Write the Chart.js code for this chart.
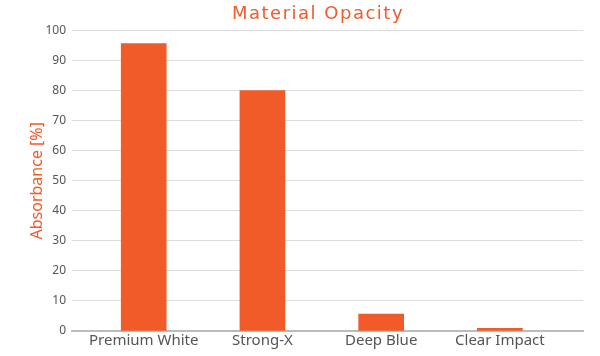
<!DOCTYPE html>
<html><head><meta charset="utf-8">
<script src="https://cdn.jsdelivr.net/npm/chart.js@4.4.0/dist/chart.umd.min.js"></script>
<style>html,body{margin:0;padding:0;background:#fff}canvas{display:block}</style>
</head><body>
<canvas id="c" width="600" height="356"></canvas>
<script>
const categories = ['Premium White', 'Strong-X', 'Deep Blue', 'Clear Impact'];
const absorbance = [95.7, 80, 5.6, 0.9];
const yTickValues = [0, 10, 20, 30, 40, 50, 60, 70, 80, 90, 100];
const chartTitle = 'Material Opacity';
const yAxisTitle = 'Absorbance [%]';

const ORANGE = '#F15A29';
const points = categories.map((c, i) => ({ x: i, y: absorbance[i] }));

const titleShift = {
  id: 'titleShift',
  afterLayout(chart) {
    const tb = chart.titleBlock;
    if (tb) { tb.left = 36; tb.right = 600; tb.width = tb.right - tb.left; }
    if (tb && !tb._patched) {
      const orig = tb.draw.bind(tb);
      tb.draw = function () {
        const ctx = chart.ctx; ctx.save();
        try { ctx.letterSpacing = '1.5px'; } catch (e) {}
        orig(); ctx.restore();
      };
      tb._patched = true;
    }
  }
};

new Chart(document.getElementById('c'), {
  type: 'bar',
  data: {
    datasets: [{
      data: points,
      backgroundColor: ORANGE,
      borderWidth: 0,
      barThickness: 45
    }]
  },
  options: {
    responsive: false,
    animation: false,
    devicePixelRatio: 1,
    layout: { padding: { left: 28, right: 17, top: 0, bottom: 0 } },
    plugins: {
      legend: { display: false },
      tooltip: { enabled: false },
      title: {
        display: true,
        text: chartTitle,
        color: ORANGE,
        font: { family: 'DejaVu Sans', size: 18, weight: 'normal' },
        padding: { top: 4, bottom: 5 }
      }
    },
    scales: {
      x: {
        type: 'linear',
        offset: false,
        min: -0.604,
        max: 3.70,
        afterBuildTicks: (s) => { s.ticks = categories.map((c, i) => ({ value: i })); },
        afterFit: (s) => { s.height = 25; },
        grid: { display: false, drawTicks: false, offset: false },
        border: { display: true, color: '#bbbbbb', width: 2 },
        ticks: {
          callback: (v) => categories[v],
          color: '#555555',
          padding: 1,
          maxRotation: 0,
          autoSkip: false,
          font: { family: 'Noto Sans', size: 15 }
        }
      },
      y: {
        min: 0,
        max: 100,
        afterBuildTicks: (s) => { s.ticks = yTickValues.map(v => ({ value: v })); },
        afterFit: (s) => { s.width = 44; },
        grid: { color: '#dddddd', lineWidth: 1, drawTicks: false },
        border: { display: false },
        ticks: {
          color: '#555555',
          padding: 6,
          font: { family: 'Noto Sans', size: 12 }
        },
        title: {
          display: true,
          text: yAxisTitle,
          color: ORANGE,
          font: { family: 'Noto Sans', size: 16 },
          padding: { top: 0, bottom: 0 }
        }
      }
    }
  },
  plugins: [titleShift]
});
</script>
</body></html>
